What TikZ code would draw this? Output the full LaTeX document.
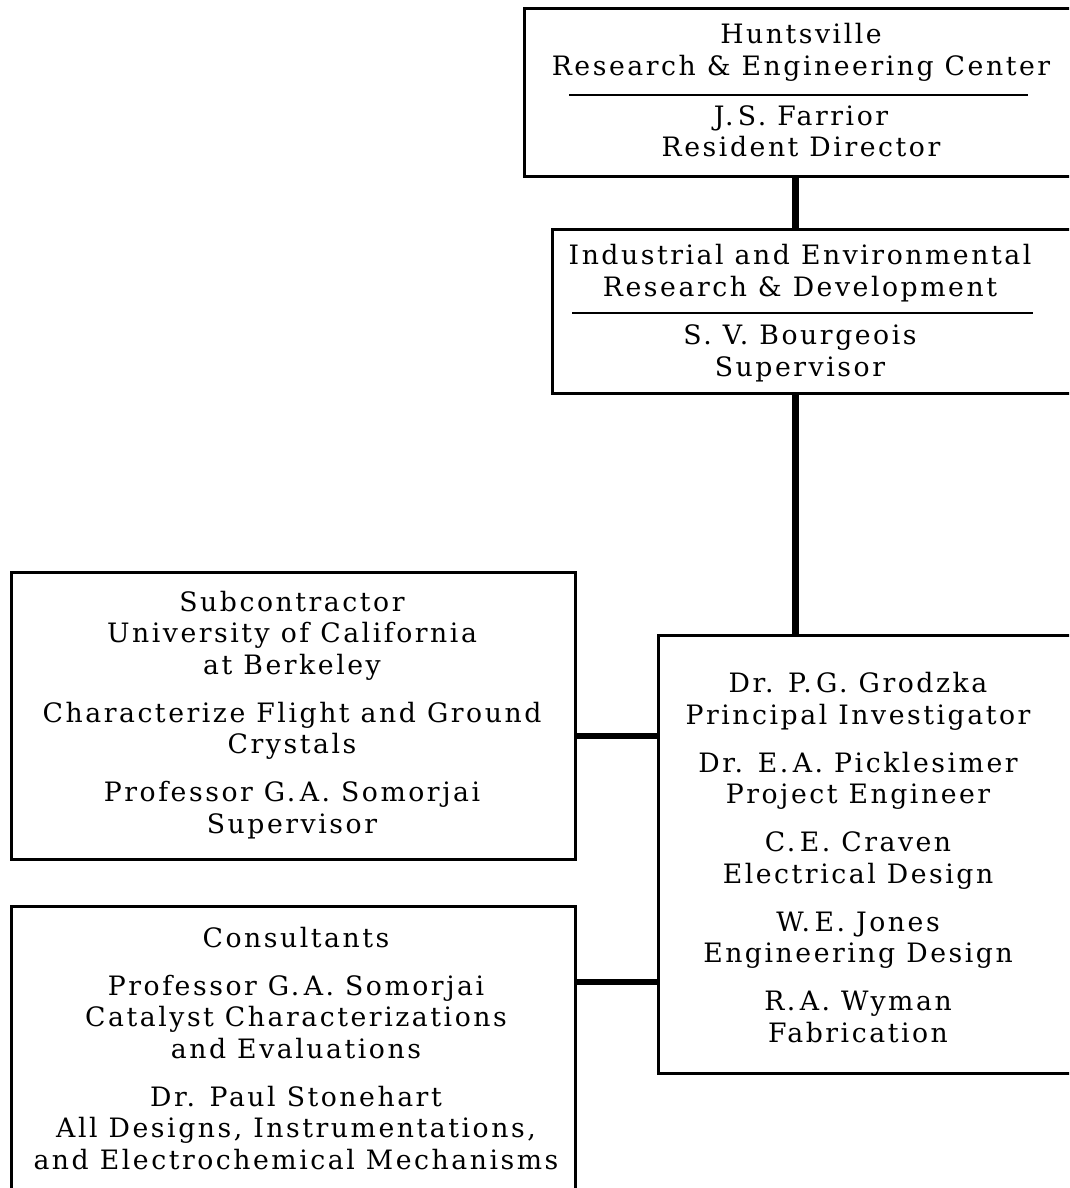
\documentclass[tikz,border=0pt]{standalone}
\usepackage{fontspec}
\setmainfont{DejaVu Serif}[LetterSpace=9.5]
\begin{document}
\begin{tikzpicture}[x=1pt,y=-1pt,
  box/.style={draw, line width=2.7pt, rectangle, inner sep=0pt, anchor=north west},
  txt/.style={align=center, inner sep=0pt, font=\fontsize{26.7}{31.5}\selectfont},
  divider/.style={line width=2.2pt},
  conn/.style={line width=7pt},
  hconn/.style={line width=6pt}]
\useasboundingbox (0,0) rectangle (1069,1188);
\clip (0,0) rectangle (1069,1188);
% boxes
\node[box, minimum width=556pt, minimum height=168pt] (b1) at (523,7) {};
\node[box, minimum width=540pt, minimum height=164pt] (b2) at (551,228) {};
\node[box, minimum width=564pt, minimum height=287pt] (b3) at (10,571) {};
\node[box, minimum width=564pt, minimum height=300pt] (b4) at (10,905) {};
\node[box, minimum width=430pt, minimum height=438pt] (b5) at (657,634) {};
% dividers
\coordinate (d1a) at (569,95);  \coordinate (d1b) at (1028,95);
\coordinate (d2a) at (572,313); \coordinate (d2b) at (1033,313);
\draw[divider] (d1a) -- (d1b);
\draw[divider] (d2a) -- (d2b);
% texts
\node[txt] (t1a) at (801,52.5) {Huntsville\\Research \& Engineering Center};
\node[txt] (t1b) at (801,131.5) {J.\,S. Farrior\\Resident Director};
\node[txt] (t2a) at (800,273) {Industrial and Environmental\\Research \& Development};
\node[txt] (t2b) at (800,353.5) {S. V. Bourgeois\\Supervisor};
\node[txt] (t3) at (292,715) {Subcontractor\\University of California\\at Berkeley\\[16.5pt]
  Characterize Flight and Ground\\Crystals\\[16.5pt]
  Professor G.\,A. Somorjai\\Supervisor};
\node[txt] (t4) at (296,1048.5) {Consultants\\[16.5pt]
  Professor G.\,A. Somorjai\\Catalyst Characterizations\\and Evaluations\\[16.5pt]
  Dr. Paul Stonehart\\All Designs, Instrumentations,\\and Electrochemical Mechanisms};
\node[txt] (t5) at (858,857.5) {Dr. P.\,G. Grodzka\\Principal Investigator\\[16.5pt]
  Dr. E.\,A. Picklesimer\\Project Engineer\\[16.5pt]
  C.\,E. Craven\\Electrical Design\\[16.5pt]
  W.\,E. Jones\\Engineering Design\\[16.5pt]
  R.\,A. Wyman\\Fabrication};
% connectors
\coordinate (vx) at (795,0);
\coordinate (h1) at (0,736);
\coordinate (h2) at (0,982);
\draw[conn] (vx |- b1.south) -- (vx |- b2.north);
\draw[conn] (vx |- b2.south) -- (vx |- b5.north);
\draw[hconn] (h1 -| b3.east) -- (h1 -| b5.west);
\draw[hconn] (h2 -| b4.east) -- (h2 -| b5.west);
\end{tikzpicture}
\end{document}
